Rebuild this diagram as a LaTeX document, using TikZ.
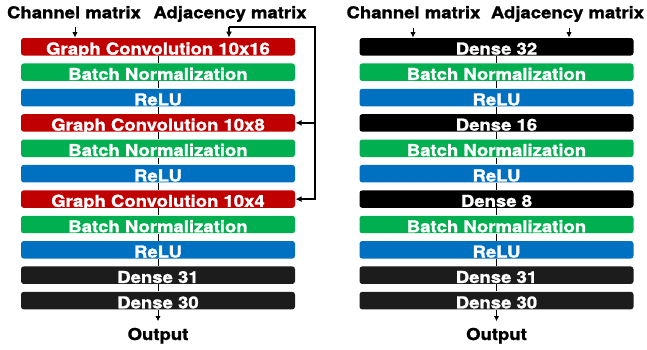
\documentclass[tikz,border=0pt]{standalone}
\usepackage{fontspec}
\setmainfont[FakeStretch=1.13, BoldFeatures={FakeBold=1.3}]{TeX Gyre Heros}
\usetikzlibrary{arrows.meta}

\definecolor{gcred}{RGB}{192,0,0}
\definecolor{bngreen}{RGB}{0,176,80}
\definecolor{relublue}{RGB}{0,112,192}
\definecolor{densegray}{RGB}{28,28,28}

\tikzset{every picture/.style={line width=0.75pt}}
\tikzset{
  layer/.style={rounded corners=2pt, inner sep=0pt, minimum width=205.5pt, minimum height=13.1pt,
    text height=11.6pt, text depth=0pt, text=white, font=\fontsize{12.3}{13}\selectfont\bfseries},
  gconv/.style={layer, fill=gcred},
  bnorm/.style={layer, fill=bngreen},
  relu/.style={layer, fill=relublue},
  dense/.style={layer, fill=black},
  densegr/.style={layer, fill=densegray},
  heading/.style={inner sep=0pt, anchor=base, font=\fontsize{12.3}{13}\selectfont\bfseries},
  flow/.style={-{Latex[length=4pt,width=4pt]}},
  feed/.style={-{Latex[length=4.5pt,width=4.5pt]}, line width=1.1pt},
}

\begin{document}
\begin{tikzpicture}[x=0.75pt,y=0.75pt,yscale=-1,xscale=1]
\useasboundingbox (0,0) rectangle (647,350);

%% graph convolution network (left)
% Text Node
\node[heading] (lch) at (74,18.3) {Channel matrix};
\node[heading] (ladj) at (230,18.3) {Adjacency matrix};
\coordinate (lin-ch) at (75,27);
\coordinate (lin-adj) at (229,27);
\coordinate (lfb) at (315,27);

% Layers
\node[gconv] (l1) at (158,46.8) {Graph Convolution 10x16};
\node[bnorm] (l2) at (158,72.2) {Batch Normalization};
\node[relu] (l3) at (158,97.6) {ReLU};
\node[gconv] (l4) at (158,122.9) {Graph Convolution 10x8};
\node[bnorm] (l5) at (158,148.3) {Batch Normalization};
\node[relu] (l6) at (158,173.7) {ReLU};
\node[gconv] (l7) at (158,199.1) {Graph Convolution 10x4};
\node[bnorm] (l8) at (158,224.5) {Batch Normalization};
\node[relu] (l9) at (158,249.8) {ReLU};
\node[densegr] (l10) at (158,275.2) {Dense 31};
\node[densegr] (l11) at (158,300.6) {Dense 30};
\node[heading] (lout) at (158,340) {Output};

% inputs and adjacency feedback
\draw[flow] (lin-ch) -- (lin-ch |- l1.north);
\draw[feed] (lin-adj) -- (lin-adj |- l1.north);
\draw[feed] (lin-adj) -- (lfb) |- (l7.east);
\draw[feed] (lfb |- l4.east) -- (l4.east);

\foreach \a/\b in {1/2,2/3,3/4,4/5,5/6,6/7,7/8,8/9,9/10,10/11}
  \draw (l\a.south) -- (l\b.north);
\draw[flow, shorten >=4.5pt] (l11.south) -- (lout.north);

%% dense network (right)
% Text Node
\node[heading] (rch) at (413.5,18.3) {Channel matrix};
\node[heading] (radj) at (567.5,18.3) {Adjacency matrix};
\coordinate (rin-ch) at (413,28);
\coordinate (rin-adj) at (569,28);

% Layers
\node[dense] (r1) at (496.5,46.8) {Dense 32};
\node[bnorm] (r2) at (496.5,72.2) {Batch Normalization};
\node[relu] (r3) at (496.5,97.6) {ReLU};
\node[dense] (r4) at (496.5,122.9) {Dense 16};
\node[bnorm] (r5) at (496.5,148.3) {Batch Normalization};
\node[relu] (r6) at (496.5,173.7) {ReLU};
\node[dense] (r7) at (496.5,199.1) {Dense 8};
\node[bnorm] (r8) at (496.5,224.5) {Batch Normalization};
\node[relu] (r9) at (496.5,249.8) {ReLU};
\node[densegr] (r10) at (496.5,275.2) {Dense 31};
\node[densegr] (r11) at (496.5,300.6) {Dense 30};
\node[heading] (rout) at (496.5,340) {Output};

\draw[flow] (rin-ch) -- (rin-ch |- r1.north);
\draw[flow] (rin-adj) -- (rin-adj |- r1.north);

\foreach \a/\b in {1/2,2/3,3/4,4/5,5/6,6/7,7/8,8/9,9/10,10/11}
  \draw (r\a.south) -- (r\b.north);
\draw[flow, shorten >=4.5pt] (r11.south) -- (rout.north);

\end{tikzpicture}
\end{document}
